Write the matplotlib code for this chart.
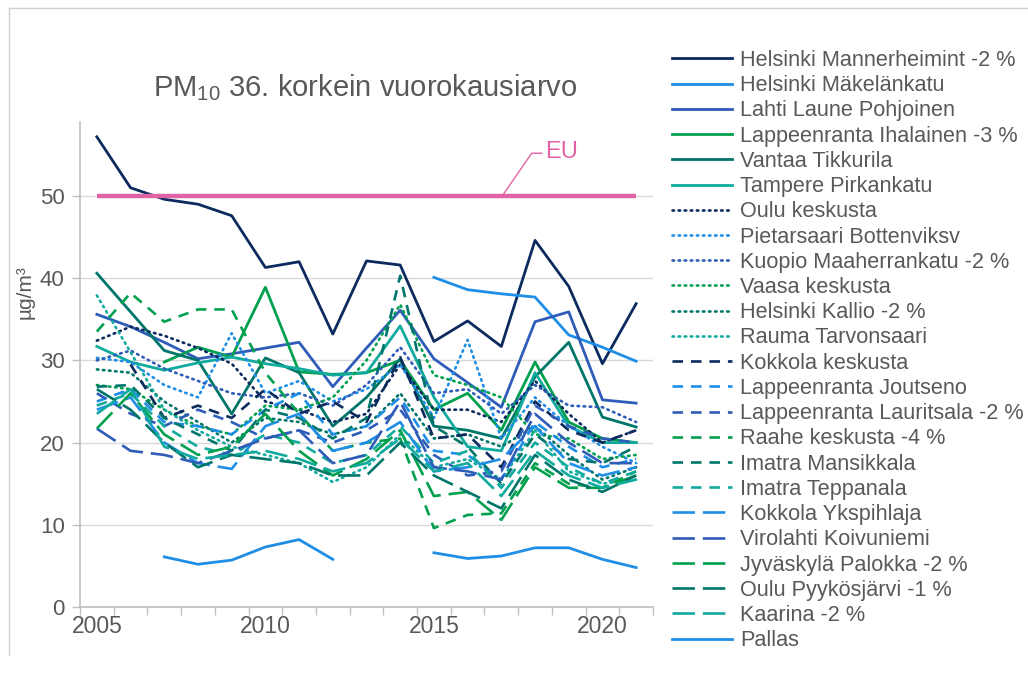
import matplotlib
matplotlib.use("Agg")
import matplotlib.pyplot as plt
import numpy as np
from matplotlib.lines import Line2D

plt.rcParams['font.family'] = ['Liberation Sans', 'DejaVu Sans']
plt.rcParams['mathtext.fontset'] = 'custom'
plt.rcParams['mathtext.rm'] = 'Liberation Sans'
plt.rcParams['mathtext.default'] = 'regular'

N = None
years = list(range(2005, 2022))
year_labels = ["2005", "2010", "2015", "2020"]

helsinki_mannerheimint = [57.2, 51.0, 49.6, 49.0, 47.6, 41.3, 42.0, 33.2, 42.1, 41.6, 32.3, 34.8, 31.7, 44.6, 39.0, 29.6, 36.9]
helsinki_makelankatu = [N, N, N, N, N, N, N, N, N, N, 40.1, 38.6, 38.1, 37.7, 33.1, 31.6, 29.9]
lahti_laune = [35.6, 34.1, 32.2, 30.2, 30.8, 31.5, 32.2, 26.8, 31.5, 36.1, 30.2, 27.3, 24.3, 34.7, 35.9, 25.2, 24.8]
lpr_ihalainen = [N, N, 29.8, 31.6, 30.4, 38.9, 28.6, 28.3, 28.5, 30.0, 24.0, 26.0, 21.5, 29.8, 22.5, 20.5, 20.0]
vantaa_tikkurila = [40.6, 35.9, 31.2, 30.0, 23.5, 30.3, 28.5, 22.0, 25.5, 30.2, 22.0, 21.5, 20.5, 28.0, 32.2, 23.1, 21.9]
tampere_pirkankatu = [31.7, 29.8, 28.8, 29.7, 30.4, 29.6, 29.0, 28.2, 28.5, 34.2, 25.5, 19.5, 19.0, 28.5, 22.0, 20.0, 20.0]
oulu_keskusta = [32.4, 34.1, 33.0, 31.5, 29.6, 25.0, 24.0, 22.5, 23.5, 29.5, 24.0, 24.0, 22.5, 27.5, 23.5, 20.0, 21.5]
pietarsaari = [30.3, 29.8, 27.0, 25.5, 33.3, 26.0, 27.5, 25.0, 26.5, 29.5, 23.0, 32.5, 20.5, 25.5, 22.0, 19.5, 17.5]
kuopio = [30.0, 31.2, 29.0, 27.5, 26.0, 25.5, 26.0, 24.5, 27.0, 31.6, 26.0, 26.5, 23.5, 27.0, 24.5, 24.3, 22.5]
vaasa = [27.0, 26.5, 24.0, 22.0, 21.0, 24.5, 24.0, 25.5, 30.0, 36.8, 28.2, 27.0, 25.5, 21.0, 20.5, 18.0, 18.5]
helsinki_kallio = [28.9, 28.5, 25.0, 22.5, 20.0, 23.0, 22.5, 21.0, 22.0, 26.0, 20.5, 21.0, 19.5, 22.0, 18.5, 15.5, 17.0]
rauma = [37.9, 31.0, 24.0, 21.5, 19.5, 18.5, 17.5, 15.2, 17.0, 21.0, 17.0, 18.0, 15.5, 21.5, 16.5, 15.0, 15.5]
kokkola_keskusta = [N, 29.5, 23.0, 24.5, 23.0, 26.5, 23.5, 25.0, 22.5, 30.4, 20.5, 21.0, 17.0, 25.0, 21.5, 20.0, 21.5]
lpr_joutseno = [25.0, 26.5, 22.5, 22.0, 21.0, 24.0, 26.0, 21.0, 22.0, 25.5, 19.0, 18.5, 15.5, 22.5, 19.5, 17.0, 18.0]
lpr_lauritsala = [26.0, 23.5, 22.0, 24.0, 22.5, 20.5, 21.5, 20.0, 21.5, 24.0, 18.5, 16.0, 16.5, 24.5, 22.0, 20.5, 20.0]
raahe = [33.5, 38.2, 34.7, 36.2, 36.2, 28.5, 23.5, 19.0, 20.0, 20.5, 9.6, 11.2, 11.4, 17.5, 15.0, 14.5, 16.5]
imatra_mansikkala = [26.8, 27.0, 23.0, 21.0, 19.0, 24.0, 23.0, 20.5, 23.0, 40.3, 22.0, 19.5, 15.0, 21.0, 18.0, 17.5, 19.5]
imatra_teppanala = [24.5, 26.0, 22.0, 19.5, 18.5, 21.0, 20.0, 17.5, 18.5, 22.0, 17.5, 19.0, 14.5, 20.0, 17.0, 15.0, 16.5]
kokkola_ykspihlaja = [24.0, 25.5, 20.0, 17.5, 16.8, 22.0, 23.5, 19.0, 20.0, 22.5, 16.5, 17.0, 18.0, 22.0, 17.5, 16.0, 17.0]
virolahti = [21.7, 19.0, 18.5, 17.5, 19.0, 20.5, 21.5, 17.5, 18.5, 25.0, 17.0, 16.5, 15.5, 23.5, 20.0, 17.5, 17.5]
jyvaskyla = [21.7, 26.0, 21.0, 18.5, 19.5, 23.5, 19.0, 16.0, 18.0, 21.5, 13.5, 14.0, 10.6, 17.0, 14.5, 14.5, 16.0]
oulu_pyykosjarvi = [26.5, 24.0, 20.0, 17.0, 18.5, 18.0, 17.5, 16.0, 16.0, 20.0, 16.0, 14.0, 12.0, 18.5, 15.5, 14.0, 16.0]
kaarina = [23.5, 26.5, 19.5, 18.0, 18.5, 19.0, 18.0, 16.5, 17.5, 20.5, 16.5, 17.5, 13.5, 19.0, 16.0, 14.5, 15.5]
pallas = [N, N, 6.1, 5.2, 5.7, 7.3, 8.2, 5.8, N, N, 6.6, 5.9, 6.2, 7.2, 7.2, 5.8, 4.8]
eu_limit = 50

labels = ["Helsinki Mannerheimint -2 %", "Helsinki Mäkelänkatu", "Lahti Laune Pohjoinen",
          "Lappeenranta Ihalainen -3 %", "Vantaa Tikkurila", "Tampere Pirkankatu",
          "Oulu keskusta", "Pietarsaari Bottenviksv", "Kuopio Maaherrankatu -2 %",
          "Vaasa keskusta", "Helsinki Kallio -2 %", "Rauma Tarvonsaari",
          "Kokkola keskusta", "Lappeenranta Joutseno", "Lappeenranta Lauritsala -2 %",
          "Raahe keskusta -4 %", "Imatra Mansikkala", "Imatra Teppanala",
          "Kokkola Ykspihlaja", "Virolahti Koivuniemi", "Jyväskylä Palokka -2 %",
          "Oulu Pyykösjärvi -1 %", "Kaarina -2 %", "Pallas"]
series = [helsinki_mannerheimint, helsinki_makelankatu, lahti_laune, lpr_ihalainen,
          vantaa_tikkurila, tampere_pirkankatu, oulu_keskusta, pietarsaari, kuopio,
          vaasa, helsinki_kallio, rauma, kokkola_keskusta, lpr_joutseno, lpr_lauritsala,
          raahe, imatra_mansikkala, imatra_teppanala, kokkola_ykspihlaja, virolahti,
          jyvaskyla, oulu_pyykosjarvi, kaarina, pallas]

navy, lblue, blue, green, dteal, teal = "#0b2a5e", "#1e8ee6", "#2e5cb8", "#00a04e", "#00766a", "#10aa9e"
colors = [navy, lblue, blue, green, dteal, teal,
          navy, lblue, blue, green, dteal, teal,
          navy, lblue, blue, green, dteal, teal,
          lblue, blue, green, dteal, teal,
          lblue]
dot = (0, (0.6, 1.7))
dash = (0, (4.0, 3.0))
ldash = (0, (8.5, 3.0))
styles = ['-'] * 6 + [dot] * 6 + [dash] * 6 + [ldash] * 5 + ['-']

fig = plt.figure(figsize=(10.28, 6.81), dpi=100)
ax = fig.add_axes([80 / 1028, 1 - 607 / 681, 573 / 1028, 485 / 681])

x = np.arange(len(years))
gray_txt = "#595959"
handles = []
for lab, s, c, ls in zip(labels, series, colors, styles):
    y = np.array([np.nan if v is None else v for v in s], dtype=float)
    lw = 2.0 if ls == '-' else 1.9
    ln, = ax.plot(x, y, color=c, linestyle=ls, linewidth=lw,
                  dash_capstyle='round' if ls is dot else 'butt', label=lab)
    handles.append(ln)

ax.plot([x[0], x[-1]], [eu_limit, eu_limit], color="#e063a5", linewidth=3.2,
        solid_capstyle='butt', zorder=5)
ax.plot([12.06, 12.9, 13.2], [50.2, 55.2, 55.2], color="#e063a5", linewidth=1.0, zorder=5)
ax.text(13.3, 55.3, "EU", color="#e063a5", fontsize=17, va='center', ha='left')

ax.set_xlim(-0.5, len(years) - 0.5)
ax.set_ylim(0, 59)
ax.set_yticks(np.arange(0, 51, 10))
ax.yaxis.grid(True, color="#d9d9d9", linewidth=1.0)
ax.set_axisbelow(True)
ax.set_xticks(np.arange(-0.5, len(years), 1.0))
ax.set_xticklabels([])
ax.set_xticks([years.index(int(t)) for t in year_labels], minor=True)
ax.set_xticklabels(year_labels, minor=True)
ax.tick_params(axis='x', which='major', length=6, color="#bfbfbf", width=1)
ax.tick_params(axis='x', which='minor', length=0, labelsize=16.5, labelcolor=gray_txt, pad=6)
ax.tick_params(axis='y', length=6, color="#bfbfbf", width=1, labelsize=16,
               labelcolor=gray_txt, pad=5)
for sp in ['top', 'right']:
    ax.spines[sp].set_visible(False)
for sp in ['left', 'bottom']:
    ax.spines[sp].set_color("#bfbfbf")
    ax.spines[sp].set_linewidth(1.2)

fig.text(365 / 1028, 1 - 88 / 681, "PM$_{10}$ 36. korkein vuorokausiarvo",
         ha='center', va='center', fontsize=21, color=gray_txt)
fig.text(25 / 1028, 1 - 292 / 681, "µg/m³", rotation=90, ha='center', va='center',
         fontsize=15, color=gray_txt)

leg = fig.legend(handles=handles, loc='upper left', bbox_to_anchor=(672 / 1028, 1 - 50 / 681),
                 frameon=False, fontsize=15.6, handlelength=2.77, handletextpad=0.37,
                 labelspacing=0.195, borderaxespad=0, borderpad=0)
for t in leg.get_texts():
    t.set_color(gray_txt)

fig.add_artist(Line2D([9 / 1028, 9 / 1028], [1 - 8 / 681, 1 - 655 / 681],
                      transform=fig.transFigure, color="#d0d0d0", linewidth=1))
fig.add_artist(Line2D([9 / 1028, 1.0], [1 - 8 / 681, 1 - 8 / 681],
                      transform=fig.transFigure, color="#d0d0d0", linewidth=1))

fig.savefig("out.png", dpi=100)
